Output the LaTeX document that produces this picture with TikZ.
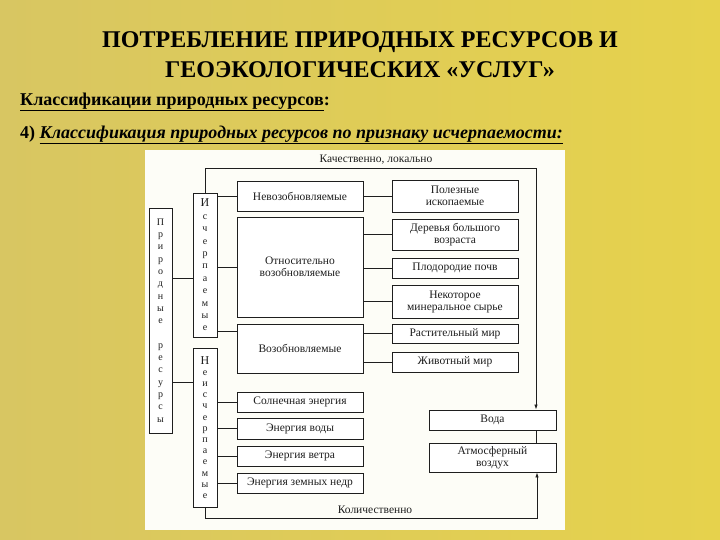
\documentclass[tikz,border=0pt]{standalone}
\usepackage{fontspec}
\setmainfont{Liberation Serif}
\usetikzlibrary{arrows.meta}
\definecolor{goldbg}{HTML}{C6B044}
\definecolor{goldright}{HTML}{E6D24C}
\definecolor{goldleft}{HTML}{D8C662}
\definecolor{panelwhite}{HTML}{FDFDF7}
\definecolor{inkgray}{HTML}{1E1E1E}

\tikzset{
  box/.style={draw=inkgray, line width=0.9pt, fill=white, inner sep=1pt, align=center,
    text=inkgray, font=\fontsize{11.5}{12}\selectfont},
  midbox/.style={box, minimum width=126pt},
  rightbox/.style={box, minimum width=126pt},
  vbox/.style={box, minimum width=23pt, inner sep=0pt},
  link/.style={draw=inkgray, line width=0.8pt},
  flow/.style={link, -{Latex[length=5pt,width=3.5pt]}},
}

\begin{document}
\begin{tikzpicture}[x=1pt,y=-1pt]
% background
\shade[left color=goldleft, middle color=goldbg, right color=goldright] (0,0) rectangle (720,540);
\useasboundingbox (0,0) rectangle (720,540);
\fill[panelwhite] (145,150) rectangle (565,530);

% headings
\node[align=center, font=\bfseries\fontsize{24}{30}\selectfont] (title) at (360,55)
  {ПОТРЕБЛЕНИЕ ПРИРОДНЫХ РЕСУРСОВ И\\ГЕОЭКОЛОГИЧЕСКИХ «УСЛУГ»};
\node[anchor=west, inner sep=0pt, font=\bfseries\fontsize{18}{20}\selectfont] (sub) at (20,102)
  {\underline{Классификации природных ресурсов}:};
\node[anchor=west, inner sep=0pt, font=\bfseries\fontsize{18}{20}\selectfont] (subfour) at (20,135)
  {4) \underline{\itshape Классификация природных ресурсов по признаку исчерпаемости:}};

% vertical boxes
\node[vbox, minimum height=225pt, font=\fontsize{10}{12.3}\selectfont] (prir) at (160.5,320.5)
  {П\\р\\и\\р\\о\\д\\н\\ы\\е\\\mbox{}\\р\\е\\с\\у\\р\\с\\ы};
\node[vbox, minimum width=24pt, minimum height=144pt, font=\fontsize{10}{12.4}\selectfont] (isch) at (205,265)
  {{\fontsize{12}{12}\selectfont И}\\с\\ч\\е\\р\\п\\а\\е\\м\\ы\\е};
\node[vbox, minimum width=24pt, minimum height=159pt, font=\fontsize{10}{11.2}\selectfont] (neisch) at (205,427.5)
  {{\fontsize{12}{12}\selectfont Н}\\е\\и\\с\\ч\\е\\р\\п\\а\\е\\м\\ы\\е};

% middle column
\node[midbox, minimum height=30pt] (nevoz) at (300,196) {Невозобновляемые};
\node[midbox, minimum height=100pt] (otn) at (300,267) {Относительно\\возобновляемые};
\node[midbox, minimum height=49pt] (vozob) at (300,348.5) {Возобновляемые};
\node[midbox, minimum height=20pt] (solar) at (300,402) {Солнечная энергия};
\node[midbox, minimum height=21pt] (water) at (300,428.5) {Энергия воды};
\node[midbox, minimum height=20pt] (wind) at (300,456) {Энергия ветра};
\node[midbox, minimum height=20pt] (geo) at (300,483) {Энергия земных недр};

% right column
\node[rightbox, minimum height=32pt] (pol) at (455,196) {Полезные\\ископаемые};
\node[rightbox, minimum height=31pt] (der) at (455,234.5) {Деревья большого\\возраста};
\node[rightbox, minimum height=20pt] (plod) at (455,268) {Плодородие почв};
\node[rightbox, minimum height=33pt] (miner) at (455,301.5) {Некоторое\\минеральное сырье};
\node[rightbox, minimum height=19pt] (rast) at (455,333.5) {Растительный мир};
\node[rightbox, minimum height=20pt] (zhiv) at (455,362) {Животный мир};

\node[box, minimum width=127pt, minimum height=20pt] (voda) at (492.5,420) {Вода};
\node[box, minimum width=127pt, minimum height=29pt] (atm) at (492.5,457.5) {Атмосферный\\воздух};

% labels on the long lines
\node[font=\fontsize{11.5}{12}\selectfont, text=inkgray] (qual) at (376,160) {Качественно, локально};
\node[font=\fontsize{11.5}{12}\selectfont, text=inkgray] (quant) at (375,510) {Количественно};
\coordinate (qtop) at (536,168);
\coordinate (qbot) at (537,518);

% connectors
\path ([yshift=42pt]prir.east) coordinate (pa);
\path ([yshift=-62pt]prir.east) coordinate (pb);
\draw[link, line width=1pt] (pa) -- (pa -| isch.west);
\draw[link, line width=1pt] (pb) -- (pb -| neisch.west);

\path ([yshift=-8pt]vozob.north west) coordinate (va);
\draw[link] (isch.east |- nevoz.west) -- (nevoz.west);
\draw[link] (isch.east |- otn.west) -- (otn.west);
\draw[link] (isch.east |- va) -- (va);

\foreach \n in {solar,water,wind,geo}
  \draw[link] (neisch.east |- \n.west) -- (\n.west);

\draw[link] (nevoz.east |- pol.west) -- (pol.west);
\foreach \n in {der,plod,miner}
  \draw[link] (otn.east |- \n.west) -- (\n.west);
\foreach \n in {rast,zhiv}
  \draw[link] (vozob.east |- \n.west) -- (\n.west);

\draw[flow] (isch.north) |- (qtop) -- (qtop |- voda.north);
\draw[link] (qtop |- voda.south) -- (qtop |- atm.north);
\draw[flow] (neisch.south) |- (qbot) -- (qbot |- atm.south);
\end{tikzpicture}
\end{document}
